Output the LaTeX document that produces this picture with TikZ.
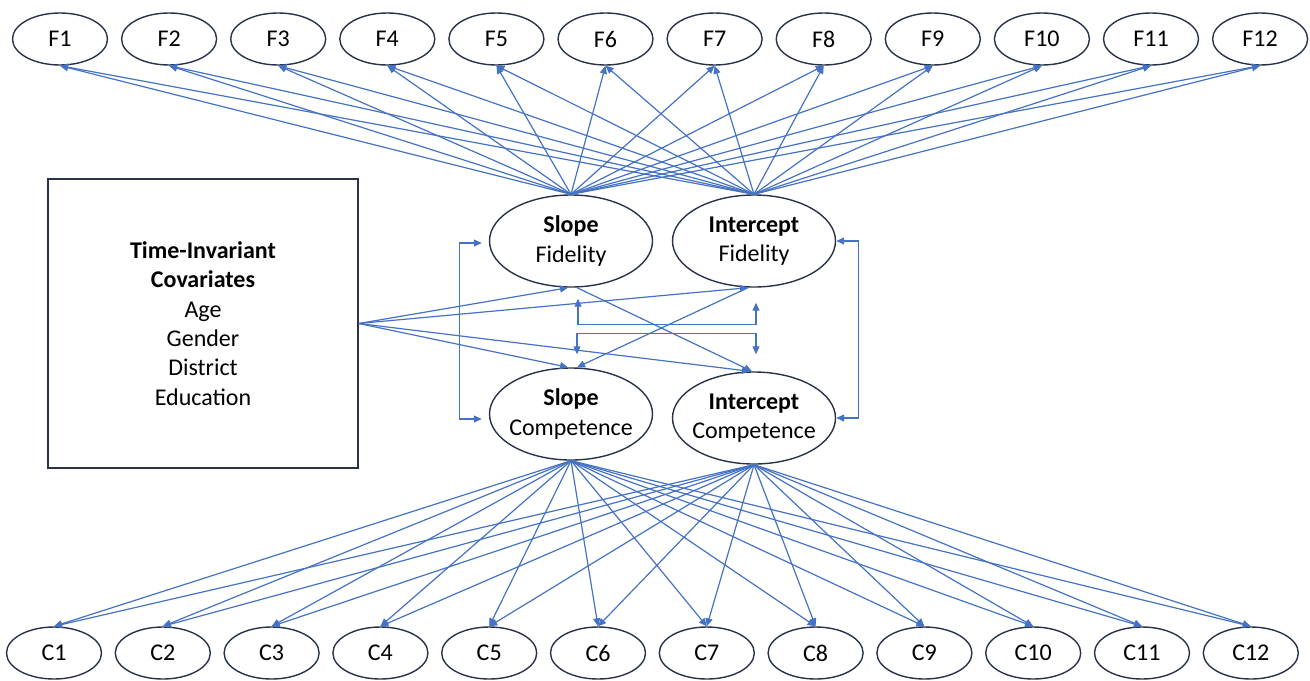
\documentclass[tikz,border=0pt]{standalone}
\usepackage{fontspec}
\setmainfont{Carlito}
\usepackage{tikz}
\usetikzlibrary{shapes.geometric,arrows.meta}
\definecolor{lineblue}{RGB}{68,114,196}
\definecolor{outline}{RGB}{40,50,72}

\tikzset{
  indicator/.style={ellipse, draw=outline, line width=0.7pt, minimum width=47.5pt, minimum height=26pt, inner sep=0pt, font=\fontsize{12}{14.7}\selectfont},
  growth/.style={ellipse, draw=outline, line width=0.7pt, minimum width=81.5pt, minimum height=46pt, inner ysep=0pt, inner xsep=-3pt, align=center, font=\fontsize{12}{14.7}\selectfont},
  loading/.style={draw=lineblue, line width=0.6pt, -{Triangle[length=4pt,width=3.5pt]}},
  covar/.style={draw=lineblue, line width=0.6pt, {Triangle[length=4pt,width=3.5pt]}-{Triangle[length=4pt,width=3.5pt]}}
}

\begin{document}
\begin{tikzpicture}[x=0.5pt,y=-0.5pt]
\useasboundingbox (0,0) rectangle (1310,680);

% Fidelity indicators left to right
\node[indicator] (F1) at (60,39) {F1};
\node[indicator] (F2) at (169.1,39) {F2};
\node[indicator] (F3) at (278.2,39) {F3};
\node[indicator] (F4) at (387.3,39) {F4};
\node[indicator] (F5) at (496.4,39) {F5};
\node[indicator] (F6) at (605.5,39) {F6};
\node[indicator] (F7) at (714.6,39) {F7};
\node[indicator] (F8) at (823.7,39) {F8};
\node[indicator] (F9) at (932.8,39) {F9};
\node[indicator] (F10) at (1041.9,39) {F10};
\node[indicator] (F11) at (1151,39) {F11};
\node[indicator] (F12) at (1260.1,39) {F12};

% Competence indicators left to right
\node[indicator] (C1) at (54,653) {C1};
\node[indicator] (C2) at (162.8,653) {C2};
\node[indicator] (C3) at (271.6,653) {C3};
\node[indicator] (C4) at (380.4,653) {C4};
\node[indicator] (C5) at (489.2,653) {C5};
\node[indicator] (C6) at (598,653) {C6};
\node[indicator] (C7) at (706.8,653) {C7};
\node[indicator] (C8) at (815.6,653) {C8};
\node[indicator] (C9) at (924.4,653) {C9};
\node[indicator] (C10) at (1033.2,653) {C10};
\node[indicator] (C11) at (1142,653) {C11};
\node[indicator] (C12) at (1250.8,653) {C12};

% Growth factors
\node[growth] (SF) at (571,241) {\textbf{Slope}\\Fidelity};
\node[growth] (IF) at (754,241) {\textbf{Intercept}\\Fidelity};
\node[growth] (SC) at (571,414) {\textbf{Slope}\\Competence};
\node[growth] (IC) at (754,418) {\textbf{Intercept}\\Competence};

% Covariates box
\node[draw=outline, line width=0.7pt, minimum width=155pt, minimum height=144.5pt, align=center, font=\fontsize{12}{14.7}\selectfont] (TIC) at (203,323.5)
  {\textbf{Time-Invariant}\\\textbf{Covariates}\\Age\\Gender\\District\\Education};

% Loadings on fidelity
\draw[loading] (SF.north) -- (F1.south); \draw[loading] (IF.north) -- (F1.south);
\draw[loading] (SF.north) -- (F2.south); \draw[loading] (IF.north) -- (F2.south);
\draw[loading] (SF.north) -- (F3.south); \draw[loading] (IF.north) -- (F3.south);
\draw[loading] (SF.north) -- (F4.south); \draw[loading] (IF.north) -- (F4.south);
\draw[loading] (SF.north) -- (F5.south); \draw[loading] (IF.north) -- (F5.south);
\draw[loading] (SF.north) -- (F6.south); \draw[loading] (IF.north) -- (F6.south);
\draw[loading] (SF.north) -- (F7.south); \draw[loading] (IF.north) -- (F7.south);
\draw[loading] (SF.north) -- (F8.south); \draw[loading] (IF.north) -- (F8.south);
\draw[loading] (SF.north) -- (F9.south); \draw[loading] (IF.north) -- (F9.south);
\draw[loading] (SF.north) -- (F10.south); \draw[loading] (IF.north) -- (F10.south);
\draw[loading] (SF.north) -- (F11.south); \draw[loading] (IF.north) -- (F11.south);
\draw[loading] (SF.north) -- (F12.south); \draw[loading] (IF.north) -- (F12.south);

% Loadings on competence
\draw[loading] (SC.south) -- (C1.north); \draw[loading] (IC.south) -- (C1.north);
\draw[loading] (SC.south) -- (C2.north); \draw[loading] (IC.south) -- (C2.north);
\draw[loading] (SC.south) -- (C3.north); \draw[loading] (IC.south) -- (C3.north);
\draw[loading] (SC.south) -- (C4.north); \draw[loading] (IC.south) -- (C4.north);
\draw[loading] (SC.south) -- (C5.north); \draw[loading] (IC.south) -- (C5.north);
\draw[loading] (SC.south) -- (C6.north); \draw[loading] (IC.south) -- (C6.north);
\draw[loading] (SC.south) -- (C7.north); \draw[loading] (IC.south) -- (C7.north);
\draw[loading] (SC.south) -- (C8.north); \draw[loading] (IC.south) -- (C8.north);
\draw[loading] (SC.south) -- (C9.north); \draw[loading] (IC.south) -- (C9.north);
\draw[loading] (SC.south) -- (C10.north); \draw[loading] (IC.south) -- (C10.north);
\draw[loading] (SC.south) -- (C11.north); \draw[loading] (IC.south) -- (C11.north);
\draw[loading] (SC.south) -- (C12.north); \draw[loading] (IC.south) -- (C12.north);

% Covariates to growth factors
\draw[loading] (TIC.east) -- ([shift={(-3,0)}]SF.south);
\draw[loading] (TIC.east) -- ([shift={(-6,0)}]IF.south);
\draw[loading] (TIC.east) -- ([shift={(-3,0)}]SC.north);
\draw[loading] (TIC.east) -- ([shift={(-4,0)}]IC.north);

% Cross paths
\draw[loading] ([shift={(-6,0)}]IF.south) -- ([shift={(6,0)}]SC.north);
\draw[loading] ([shift={(6,0)}]SF.south) -- ([shift={(-2,0)}]IC.north);

% Covariances
\draw[covar] ([shift={(7,11)}]SF.south) -- ++(0,26) -| ([shift={(2,15)}]IF.south);
\draw[covar] ([shift={(6,-13)}]SC.north) -- ++(0,-21) -| ([shift={(2,-17)}]IC.north);
\draw[covar] ([shift={(-7,2)}]SF.west) -- ++(-22,0) |- ([shift={(-7,5)}]SC.west);
\draw[covar] (IF.east) -- ++(22,0) |- (IC.east);
\end{tikzpicture}
\end{document}
